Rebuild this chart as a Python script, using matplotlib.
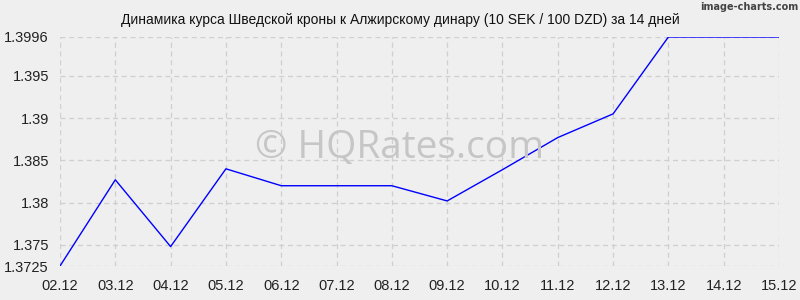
import matplotlib
matplotlib.use("Agg")
import matplotlib.pyplot as plt

dates = ["02.12", "03.12", "04.12", "05.12", "06.12", "07.12", "08.12",
         "09.12", "10.12", "11.12", "12.12", "13.12", "14.12", "15.12"]
rates = [1.3725, 1.3827, 1.3748, 1.3840, 1.3820, 1.3820, 1.3820,
         1.3802, 1.3839, 1.3877, 1.3905, 1.3996, 1.3996, 1.3996]
yticks = [1.3725, 1.375, 1.38, 1.385, 1.39, 1.395, 1.3996]
ytick_labels = ["1.3725", "1.375", "1.38", "1.385", "1.39", "1.395", "1.3996"]
title = "Динамика курса Шведской кроны к Алжирскому динару (10 SEK / 100 DZD) за 14 дней"

plt.rcParams['font.family'] = ['Liberation Sans', 'DejaVu Sans']
bg = "#efefef"
fig = plt.figure(figsize=(8, 3), dpi=100, facecolor=bg)
ax = fig.add_axes([0.075, 0.1133, 0.89875, 0.7634], facecolor=bg)

x = list(range(len(dates)))
ax.plot(x, rates, color="#0000ff", linewidth=1.0, zorder=3)

ax.set_xlim(0, len(dates) - 1)
ax.set_ylim(yticks[0], yticks[-1])
ax.set_xticks(x)
ax.set_xticklabels(dates)
ax.set_yticks(yticks)
ax.set_yticklabels(ytick_labels)
ax.tick_params(axis='both', length=0, labelsize=10.5, colors="#222222")
ax.tick_params(axis='x', pad=9)
ax.tick_params(axis='y', pad=8)
ax.grid(True, color="#cfcfcf", linestyle=(0, (4, 3)), linewidth=0.9)
for s in ax.spines.values():
    s.set_visible(False)

fig.text(0.5, 0.933, title, ha='center', va='center', fontsize=10, color="#111111")
fig.text(0.998, 0.978, "image-charts.com", ha='right', va='center', fontsize=7,
         color="#444444", fontweight='bold',
         family=['DejaVu Sans Condensed', 'DejaVu Sans'])
fig.text(0.5, 0.505, "© HQRates.com", ha='center', va='center', fontsize=28,
         color="#c6c6c6", family=['Open Sans', 'DejaVu Sans'], zorder=1)

fig.savefig("out.png", dpi=100, facecolor=bg)
